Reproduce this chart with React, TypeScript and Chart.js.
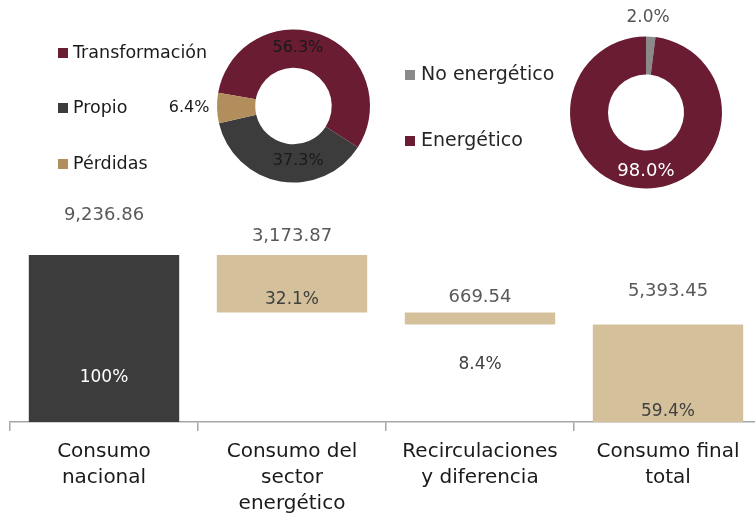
import React, { useEffect, useRef } from "react";
import { Chart, registerables } from "chart.js";

Chart.register(...registerables);

// ---------- data ----------
const categories = [
  ["Consumo", "nacional"],
  ["Consumo del", "sector", "energético"],
  ["Recirculaciones", "y diferencia"],
  ["Consumo final", "total"],
];
const barValues = [9236.86, 3173.87, 669.54, 5393.45];
const barShares = ["100%", "32.1%", "8.4%", "59.4%"];

const sectorLabels = ["Transformación", "Propio", "Pérdidas"];
const sectorShares = [56.3, 37.3, 6.4];

const useLabels = ["No energético", "Energético"];
const useShares = [2.0, 98.0];

// ---------- styles ----------
const FONT = "'DejaVu Sans', sans-serif";
const W = 755;
const H = 517;
const Y_MAX = 23340;

const BAR_COLORS = ["#3C3C3C", "#D4C19C", "#D4C19C", "#D4C19C"];
const VALUE_LIFT = [40, 19, 15, 33];
const SHARE_SHIFT = [-44, -13, 40, -10];
const SHARE_COLORS = ["#ffffff", "#404040", "#404040", "#404040"];

const SECTOR_COLORS = ["#691C32", "#3C3C3C", "#B38E5D"];
const USE_COLORS = ["#8A8A8A", "#691C32"];

function fmt(v: number) {
  return v.toLocaleString("en-US", { minimumFractionDigits: 2, maximumFractionDigits: 2 });
}

function waterfallRanges(vals: number[]) {
  const total = vals[0];
  const afterSector = total - vals[1];
  const afterRecirc = afterSector - vals[2];
  return [
    [0, total],
    [afterSector, total],
    [afterRecirc, afterSector],
    [0, vals[3]],
  ];
}

const barLabelPlugin = {
  id: "barLabels",
  afterDatasetsDraw(chart: any) {
    const ctx = chart.ctx;
    const meta = chart.getDatasetMeta(0);
    ctx.save();
    ctx.textAlign = "center";
    ctx.textBaseline = "middle";
    meta.data.forEach((el: any, i: number) => {
      const top = Math.min(el.y, el.base);
      const bottom = Math.max(el.y, el.base);
      ctx.font = `18px ${FONT}`;
      ctx.fillStyle = "#595959";
      ctx.fillText(fmt(barValues[i]), el.x, top - VALUE_LIFT[i]);
      ctx.font = `17px ${FONT}`;
      ctx.fillStyle = SHARE_COLORS[i];
      ctx.fillText(barShares[i], el.x, bottom + SHARE_SHIFT[i]);
    });
    ctx.restore();
  },
};

type DonutCfg = {
  labels: string[];
  shares: number[];
  colors: string[];
  rotation: number;
  padding: { left: number; top: number; right: number; bottom: number };
  labelOffsets: number[][];
  labelColors: string[];
  labelSizes: number[];
  legendBoxX: number;
  legendTextX: number;
  legendY: number[];
  legendColor: string;
  legendSize: number;
};

function makeDonutPlugin(cfg: DonutCfg) {
  return {
    id: "donutLabels",
    afterDatasetsDraw(chart: any) {
      const ctx = chart.ctx;
      const meta = chart.getDatasetMeta(0);
      ctx.save();
      ctx.textBaseline = "middle";
      ctx.textAlign = "center";
      meta.data.forEach((arc: any, i: number) => {
        const p = arc.getCenterPoint();
        ctx.font = `${cfg.labelSizes[i]}px ${FONT}`;
        ctx.fillStyle = cfg.labelColors[i];
        ctx.fillText(
          cfg.shares[i].toFixed(1) + "%",
          p.x + cfg.labelOffsets[i][0],
          p.y + cfg.labelOffsets[i][1]
        );
      });
      // legend
      ctx.textAlign = "left";
      ctx.font = `${cfg.legendSize}px ${FONT}`;
      cfg.labels.forEach((lab, i) => {
        const y = cfg.legendY[i];
        ctx.fillStyle = cfg.colors[i];
        ctx.fillRect(cfg.legendBoxX, y - 5, 10, 10);
        ctx.fillStyle = cfg.legendColor;
        ctx.fillText(lab, cfg.legendTextX, y);
      });
      ctx.restore();
    },
  };
}

const sectorCfg: DonutCfg = {
  labels: sectorLabels,
  shares: sectorShares,
  colors: SECTOR_COLORS,
  rotation: -80,
  padding: { left: 217, top: 29.5, right: W - 370, bottom: H - 182.5 },
  labelOffsets: [
    [-16.5, -4.5],
    [14.5, -1.5],
    [-47, 0],
  ],
  labelColors: ["#1a1a1a", "#1a1a1a", "#1a1a1a"],
  labelSizes: [16, 16, 16],
  legendBoxX: 58,
  legendTextX: 73,
  legendY: [53, 108, 164],
  legendColor: "#1a1a1a",
  legendSize: 17.5,
};

const useCfg: DonutCfg = {
  labels: useLabels,
  shares: useShares,
  colors: USE_COLORS,
  rotation: 0,
  padding: { left: 570, top: 36.5, right: W - 722, bottom: H - 188.5 },
  labelOffsets: [
    [-1.5, -38.5],
    [3.5, 1.5],
  ],
  labelColors: ["#555555", "#ffffff"],
  labelSizes: [17, 18],
  legendBoxX: 405,
  legendTextX: 421,
  legendY: [75, 141],
  legendColor: "#262626",
  legendSize: 19,
};

function buildDonut(canvas: HTMLCanvasElement, cfg: DonutCfg) {
  return new Chart(canvas, {
    type: "doughnut",
    data: {
      labels: cfg.labels,
      datasets: [
        {
          data: cfg.shares,
          backgroundColor: cfg.colors,
          borderWidth: 0,
        },
      ],
    },
    options: {
      animation: false,
      responsive: false,
      maintainAspectRatio: false,
      cutout: "50%",
      rotation: cfg.rotation,
      layout: { padding: cfg.padding },
      plugins: { legend: { display: false }, tooltip: { enabled: false } },
    },
    plugins: [makeDonutPlugin(cfg)],
  } as any);
}

export default function App() {
  const barRef = useRef<HTMLCanvasElement>(null);
  const d1Ref = useRef<HTMLCanvasElement>(null);
  const d2Ref = useRef<HTMLCanvasElement>(null);

  useEffect(() => {
    const bar = new Chart(barRef.current!, {
      type: "bar",
      data: {
        labels: categories,
        datasets: [
          {
            data: waterfallRanges(barValues),
            backgroundColor: BAR_COLORS,
            borderWidth: 0,
            barPercentage: 0.8,
            categoryPercentage: 1,
          },
        ],
      },
      options: {
        animation: false,
        responsive: false,
        maintainAspectRatio: false,
        layout: { padding: { left: 10, right: 0, top: 0, bottom: 0 } },
        plugins: { legend: { display: false }, tooltip: { enabled: false } },
        scales: {
          x: {
            grid: {
              display: true,
              drawOnChartArea: false,
              drawTicks: true,
              tickLength: 9,
              offset: true,
              color: "#a6a6a6",
              lineWidth: 1.5,
            },
            border: { display: true, color: "#a6a6a6", width: 1.5 },
            ticks: {
              color: "#1a1a1a",
              font: { family: FONT, size: 20, lineHeight: 1.3 },
              padding: 8,
              maxRotation: 0,
              autoSkip: false,
            },
            afterFit: (s: any) => {
              s.height = 95;
            },
          },
          y: { display: false, min: 0, max: Y_MAX },
        },
      },
      plugins: [barLabelPlugin],
    } as any);
    const d1 = buildDonut(d1Ref.current!, sectorCfg);
    const d2 = buildDonut(d2Ref.current!, useCfg);
    return () => {
      bar.destroy();
      d1.destroy();
      d2.destroy();
    };
  }, []);

  const abs: React.CSSProperties = { position: "absolute", left: 0, top: 0 };
  return (
    <div
      style={{
        position: "absolute",
        left: 0,
        top: 0,
        width: W,
        height: H,
        overflow: "hidden",
        background: "#ffffff",
      }}
    >
      <canvas ref={barRef} width={762} height={H} style={{ ...abs, width: 762, height: H }} />
      <canvas ref={d1Ref} width={W} height={H} style={{ ...abs, width: W, height: H }} />
      <canvas ref={d2Ref} width={W} height={H} style={{ ...abs, width: W, height: H }} />
    </div>
  );
}
